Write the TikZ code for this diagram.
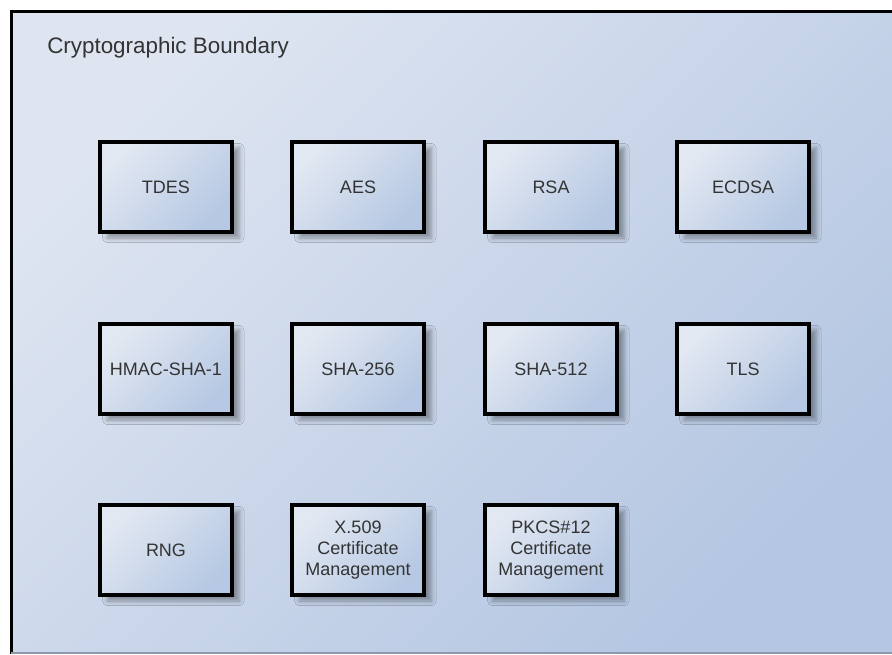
\documentclass[tikz,border=0pt]{standalone}
\usepackage{fontspec}
\setmainfont{Liberation Sans}
\usetikzlibrary{shadows.blur}
\definecolor{bgLight}{HTML}{DEE5F1}
\definecolor{bgDark}{HTML}{B4C6E2}
\definecolor{boxLight}{HTML}{E2E8F2}
\definecolor{boxDark}{HTML}{B6C8E3}
\definecolor{txt}{HTML}{333333}
\definecolor{bottomline}{HTML}{8E9AAC}
\tikzset{
  cryptobox/.style={draw=black, line width=3pt, minimum width=99pt, minimum height=67.5pt,
    inner sep=0pt, align=center, text=txt,
    top color=boxLight, bottom color=boxDark, shading angle=45,
    font=\fontsize{13.5}{15.75}\selectfont,
    blur shadow={shadow xshift=5.5pt, shadow yshift=-4.5pt, shadow blur radius=3.5pt, shadow opacity=35}},
  boundarytitle/.style={anchor=base west, text=txt, inner sep=0pt, font=\fontsize{16.8}{20}\selectfont}
}
\begin{document}
\begin{tikzpicture}[x=0.75pt,y=-0.75pt]
\useasboundingbox (0,0) rectangle (892,654);
\fill[white] (0,0) rectangle (892,654);
% boundary
\shade[top color=bgLight, bottom color=bgDark, shading angle=45] (11,11) rectangle (892,652);
\draw[line width=2.25pt, black] (11,654) -- (11,11) -- (892,11);
\draw[line width=1.5pt, bottomline] (11,653) -- (892,653);
\node[boundarytitle] (title) at (47,53) {Cryptographic Boundary};
% row 1
\node[cryptobox] (tdes)  at (166,187) {TDES};
\node[cryptobox] (aes)   at (358,187) {AES};
\node[cryptobox] (rsa)   at (551,187) {RSA};
\node[cryptobox] (ecdsa) at (743,187) {ECDSA};
% row 2
\node[cryptobox] (hmac)   at (166,369) {HMAC-SHA-1};
\node[cryptobox] (sha256) at (358,369) {SHA-256};
\node[cryptobox] (sha512) at (551,369) {SHA-512};
\node[cryptobox] (tls)    at (743,369) {TLS};
% row 3
\node[cryptobox] (rng)  at (166,550) {RNG};
\node[cryptobox] (x509) at (358,550) {X.509\\Certificate\\Management};
\node[cryptobox] (pkcs) at (551,550) {PKCS\#12\\Certificate\\Management};
\end{tikzpicture}
\end{document}
